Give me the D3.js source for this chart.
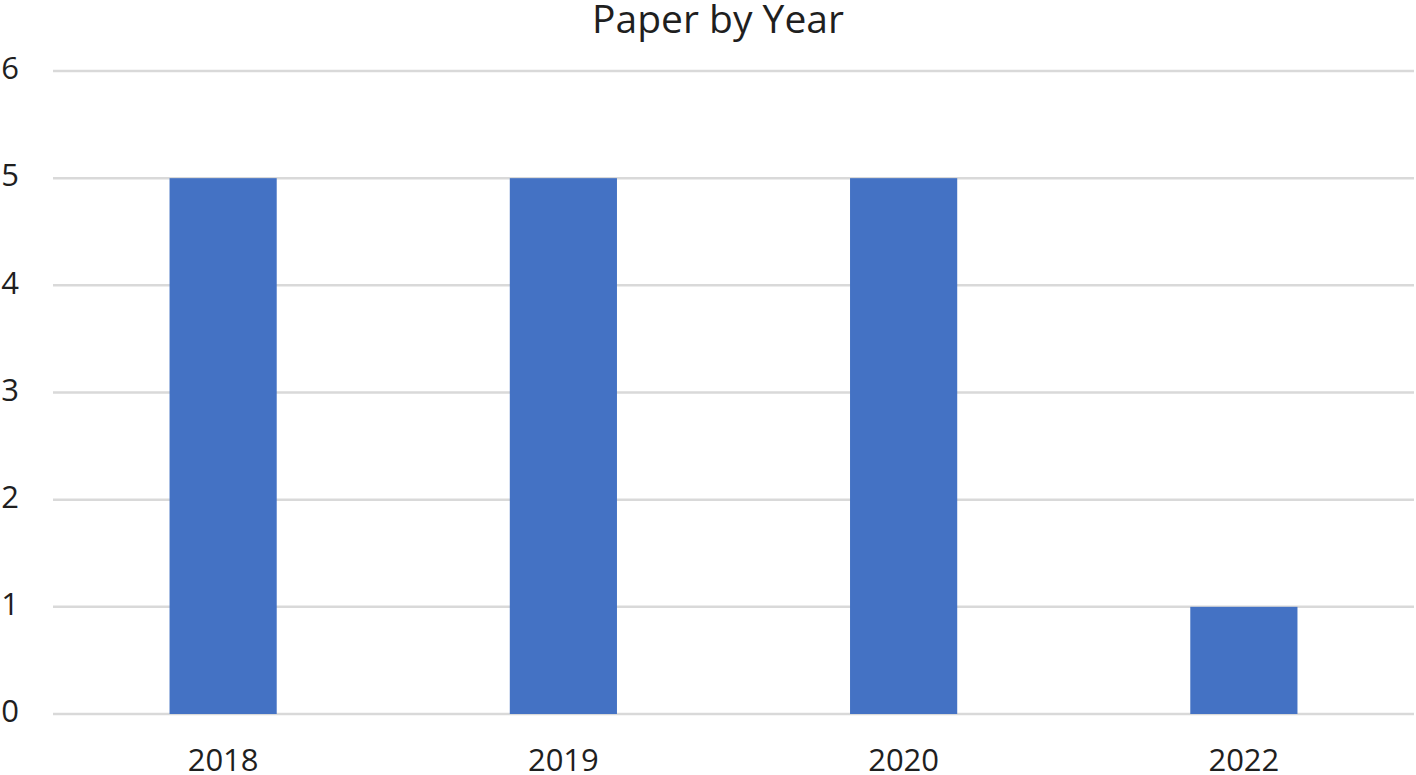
<!DOCTYPE html>
<html>
<head>
<meta charset="utf-8">
<script src="https://cdn.jsdelivr.net/npm/d3@7"></script>
<style>
  html, body { margin: 0; padding: 0; background: #fff; }
  svg { display: block; }
  text { font-family: "Open Sans", "Noto Sans", sans-serif; fill: #1f1f1f; }
</style>
</head>
<body>
<svg id="chart" width="1416" height="775"></svg>
<script>
const categories = ["2018", "2019", "2020", "2022"];
const values = [5, 5, 5, 1];
const yTicks = [0, 1, 2, 3, 4, 5, 6];
const title = "Paper by Year";

const W = 1416, H = 775;
const margin = { left: 53, right: 2, top: 71, bottom: 61 };
const svg = d3.select("#chart");

const x = d3.scaleBand()
  .domain(categories)
  .range([margin.left, W - margin.right])
  .paddingInner(0.685)
  .paddingOuter(0.3425);

const y = d3.scaleLinear()
  .domain([0, 6])
  .range([H - margin.bottom, margin.top]);

// gridlines
svg.append("g")
  .selectAll("line")
  .data(yTicks)
  .join("line")
  .attr("x1", margin.left)
  .attr("x2", W - margin.right)
  .attr("y1", d => y(d))
  .attr("y2", d => y(d))
  .attr("stroke", "#d9d9d9")
  .attr("stroke-width", 2.5);

// bars
svg.append("g")
  .selectAll("rect")
  .data(values)
  .join("rect")
  .attr("x", (d, i) => x(categories[i]))
  .attr("width", x.bandwidth())
  .attr("y", d => y(d))
  .attr("height", d => y(0) - y(d))
  .attr("fill", "#4472C4");

// y axis labels
const yAxis = d3.axisLeft(y).tickValues(yTicks).tickSize(0).tickPadding(0).tickFormat(d3.format("d"));
const gy = svg.append("g").attr("transform", "translate(19,0)").call(yAxis);
gy.select(".domain").remove();
gy.selectAll("text").attr("dy", "0.25em").style("font-size", "31px").style("font-family", "'Open Sans', sans-serif").attr("fill", "#1f1f1f");

// x axis labels
const xAxis = d3.axisBottom(x).tickSize(0).tickPadding(0);
const gx = svg.append("g").attr("transform", `translate(0,${y(0)})`).call(xAxis);
gx.select(".domain").remove();
gx.selectAll("text").attr("dy", null).attr("y", 57).style("font-size", "31px").style("font-family", "'Open Sans', sans-serif").attr("fill", "#1f1f1f");

// title
svg.append("text")
  .attr("x", 718)
  .attr("y", 33)
  .attr("text-anchor", "middle")
  .style("font-size", "39px")
  .text(title);
</script>
</body>
</html>
